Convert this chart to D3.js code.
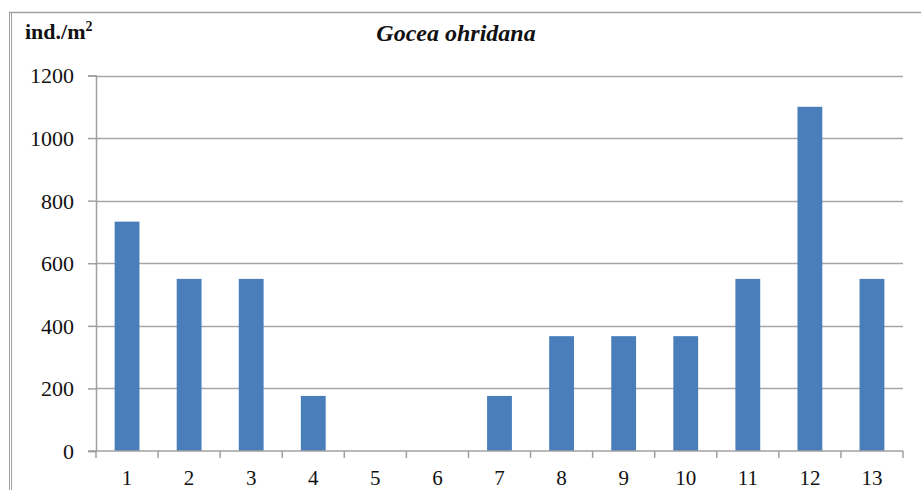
<!DOCTYPE html>
<html><head><meta charset="utf-8">
<script src="https://cdn.jsdelivr.net/npm/d3@7"></script>
<style>body{margin:0;background:#fff}svg{display:block}</style>
</head><body>
<svg id="c" width="921" height="490"></svg>
<script>
const categories = ["1","2","3","4","5","6","7","8","9","10","11","12","13"];
const values = [733, 550, 550, 176, 0, 0, 176, 367, 367, 367, 550, 1100, 550];
const yTicks = [0, 200, 400, 600, 800, 1000, 1200];
const titleText = "Gocea ohridana";
const unitText = "ind./m";

const svg = d3.select("#c");
const L = 96, R = 903, T = 75.5, B = 451;
const x = d3.scaleBand().domain(categories).range([L, R]).paddingInner(0.6).paddingOuter(0.3);
const y = d3.scaleLinear().domain([0, 1200]).range([B, T]);
const serif = '"Liberation Serif"';

// outer frame
svg.append("line").attr("x1", 9).attr("x2", 921).attr("y1", 12.5).attr("y2", 12.5).attr("stroke", "#a0a0a0").attr("stroke-width", 1.5);
svg.append("line").attr("x1", 9.5).attr("x2", 9.5).attr("y1", 12).attr("y2", 490).attr("stroke", "#a0a0a0").attr("stroke-width", 1);
svg.append("line").attr("x1", 11.5).attr("x2", 11.5).attr("y1", 12).attr("y2", 490).attr("stroke", "#a0a0a0").attr("stroke-width", 1);

// gridlines
svg.append("g").selectAll("line").data(yTicks.filter(d => d > 0)).join("line")
  .attr("x1", L).attr("x2", R).attr("y1", d => Math.round(y(d)) + 0.5).attr("y2", d => Math.round(y(d)) + 0.5)
  .attr("stroke", "#a6a6a6").attr("stroke-width", 1.5);

// bars
svg.append("g").selectAll("rect").data(values).join("rect")
  .attr("x", (d, i) => x(categories[i]))
  .attr("width", x.bandwidth())
  .attr("y", d => y(d))
  .attr("height", d => B - y(d))
  .attr("fill", "#4a7ebb");

// y axis
const yAxis = d3.axisLeft(y).tickValues(yTicks).tickSize(8).tickPadding(14).tickFormat(d3.format("d"));
const gy = svg.append("g").attr("transform", `translate(${L},0)`).call(yAxis);
gy.attr("font-family", null).attr("font-size", null);
gy.select(".domain").attr("stroke", "#a0a0a0").attr("stroke-width", 1.5);
gy.selectAll(".tick line").attr("stroke", "#a0a0a0").attr("stroke-width", 1.5);
gy.selectAll(".tick text").style("font-family", serif).style("font-size", "22px").style("fill", "#111").attr("dy", "0.34em");

// x axis
const xAxis = d3.axisBottom(x).tickSize(0).tickPadding(0);
const gx = svg.append("g").attr("transform", `translate(0,${B})`).call(xAxis);
gx.attr("font-family", null).attr("font-size", null);
gx.select(".domain").remove();
gx.append("line").attr("x1", L - 8).attr("x2", R).attr("y1", 0).attr("y2", 0).attr("stroke", "#a0a0a0").attr("stroke-width", 1.5);
gx.selectAll(".tick text").style("font-family", serif).style("font-size", "21px").style("fill", "#111").attr("y", 34).attr("dy", 0);
const bounds = d3.range(categories.length + 1).map(i => L + i * (R - L) / categories.length);
gx.append("g").selectAll("line").data(bounds).join("line")
  .attr("x1", d => d).attr("x2", d => d).attr("y1", 0).attr("y2", 7)
  .attr("stroke", "#a0a0a0").attr("stroke-width", 1.5);

// labels
const ut = svg.append("text").attr("x", 25).attr("y", 39)
  .style("font-family", serif).style("font-size", "22px").style("font-weight", "700").style("fill", "#111").text(unitText);
ut.append("tspan").style("font-size", "14px").attr("dy", -8).text("2");
svg.append("text").attr("x", 456).attr("y", 41).attr("text-anchor", "middle")
  .style("font-family", serif).style("font-size", "24px").style("font-weight", "700").style("font-style", "italic").style("fill", "#111").text(titleText);
</script>
</body></html>
